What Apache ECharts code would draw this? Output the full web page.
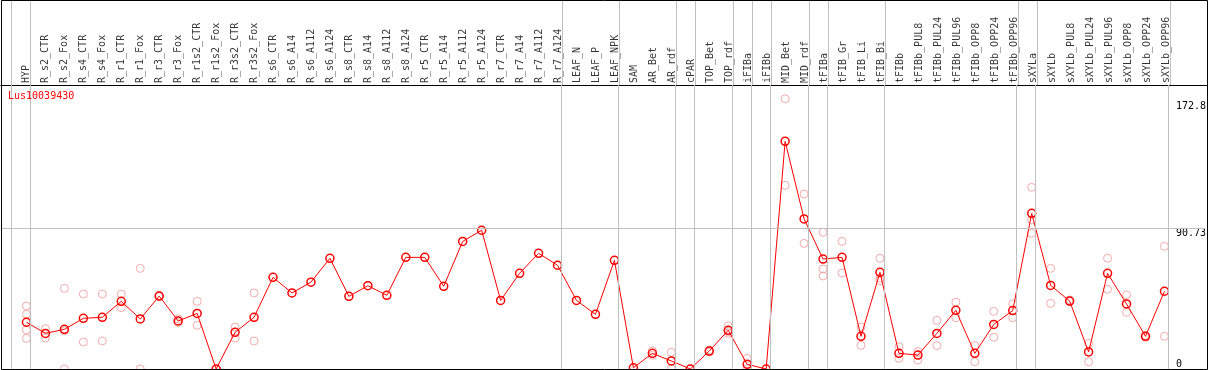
<!DOCTYPE html>
<html>
<head>
<meta charset="utf-8">
<title>Lus10039430</title>
<script src="https://cdn.jsdelivr.net/npm/echarts@6.0.0/dist/echarts.min.js"></script>
<style>
    html, body { margin: 0; padding: 0; background: #fff; }
    #chart { width: 1209px; height: 370px; }
</style>
</head>
<body>
<div id="chart"></div>
<script>
var categories = ['HYP', 'R_s2_CTR', 'R_s2_Fox', 'R_s4_CTR', 'R_s4_Fox', 'R_r1_CTR', 'R_r1_Fox', 'R_r3_CTR', 'R_r3_Fox',
    'R_r1s2_CTR', 'R_r1s2_Fox', 'R_r3s2_CTR', 'R_r3s2_Fox', 'R_s6_CTR', 'R_s6_A14', 'R_s6_A112', 'R_s6_A124',
    'R_s8_CTR', 'R_s8_A14', 'R_s8_A112', 'R_s8_A124', 'R_r5_CTR', 'R_r5_A14', 'R_r5_A112', 'R_r5_A124',
    'R_r7_CTR', 'R_r7_A14', 'R_r7_A112', 'R_r7_A124', 'LEAF_N', 'LEAF_P', 'LEAF_NPK', 'SAM', 'AR_Bet', 'AR_rdf',
    'cPAR', 'TOP_Bet', 'TOP_rdf', 'iFIBa', 'iFIBb', 'MID_Bet', 'MID_rdf', 'tFIBa', 'tFIB_Gr', 'tFIB_Li', 'tFIB_Bi',
    'tFIBb', 'tFIBb_PUL8', 'tFIBb_PUL24', 'tFIBb_PUL96', 'tFIBb_OPP8', 'tFIBb_OPP24', 'tFIBb_OPP96',
    'sXYLa', 'sXYLb', 'sXYLb_PUL8', 'sXYLb_PUL24', 'sXYLb_PUL96', 'sXYLb_OPP8', 'sXYLb_OPP24', 'sXYLb_OPP96'];

// mean per sample (red line)
var means = [30.2, 23.0, 25.6, 32.7, 33.4, 43.7, 32.3, 47.1, 31.0, 35.9, 0, 23.7, 33.4,
    59.2, 49.1, 56.1, 71.5, 46.9, 53.8, 47.6, 72.1, 72.1, 53.4, 82.4, 89.6, 44.3, 61.8, 74.7, 67.0,
    44.3, 35.3, 70.2, 0.8, 10.1, 5.2, 0, 11.6, 25.0, 3.0, 0, 147.0, 96.9, 71.0, 72.1, 21.1, 62.4,
    10.1, 9.0, 23.0, 37.9, 10.1, 28.8, 37.7, 100.5, 54.0, 43.9, 11.0, 61.8, 42.0, 21.1, 50.2];

// single replicates (pale circles), one list per sample
var replicates = [[40.7, 35.3, 25.2, 19.8], [26.0, 20.0], [52.1, 24.7, 0], [48.4, 17.4], [48.4, 18.1],
    [48.4, 39.6], [65.0, 0], [47.5, 46.8], [32.4, 30.0], [43.7, 28.2], [0, 0], [27.1, 20.0], [49.1, 18.1],
    [], [], [], [], [], [], [], [], [], [], [], [], [], [], [], [], [], [], [],
    [], [11.8, 8.8], [10.8, 0.2], [], [12.3, 11.0], [27.8, 24.2, 23.0], [6.9, 0.2], [],
    [174.5, 118.6], [113.0, 81.1], [88.3, 64.6, 60.1], [82.4, 62.0], [27.1, 15.3], [71.5, 58.7, 57.0],
    [14.4, 6.9], [11.2, 5.8], [31.4, 15.1], [43.1, 33.1], [15.1, 4.7], [37.2, 20.5], [42.0, 33.1],
    [117.3, 96.2, 87.6], [65.0, 42.4], [44.6, 43.5], [16.6, 4.7], [71.5, 51.5], [47.8, 36.6],
    [21.7, 20.5], [79.2, 21.1]];

// a group separator is drawn just after these sample indexes
var groupEnds = [-1, 0, 28, 31, 34, 35, 37, 38, 39, 41, 42, 45, 52, 53, 60];

var yTicks = [90.73, 172.8];
var yZero = [0];
var yGrid = [90.73];

var font = 'DejaVu Sans Mono';
var gray = '#c0c0c0';
var xMin = -1.35, xMax = 62.15;
var yMax = 183.4; // 172.8 plus the room up to the header line

var chart = echarts.init(document.getElementById('chart'));

var sepData = groupEnds.map(function (i) { return { xAxis: i + 0.21 }; });
var markSep = function (extra) {
    return {
        silent: true,
        symbol: 'none',
        animation: false,
        label: { show: false },
        emphasis: { disabled: true },
        lineStyle: { color: gray, width: 1, type: 'solid' },
        data: sepData.concat(extra || [])
    };
};

var repPoints = [];
replicates.forEach(function (vals, i) {
    vals.forEach(function (v) { repPoints.push([i, v]); });
});

var yLabel = function (vals, va) {
    return {
        customValues: vals,
        verticalAlign: va,
        align: 'left',
        margin: 2,
        fontFamily: font,
        fontSize: 10,
        color: '#000'
    };
};

var option = {
    animation: false,
    backgroundColor: '#fff',
    title: {
        text: 'Lus10039430',
        left: 8,
        top: 91,
        padding: 0,
        textStyle: { color: '#ff0000', fontFamily: font, fontSize: 10, fontWeight: 'normal' }
    },
    grid: [
        { left: 0.85, right: 1.65, top: 0, height: 85 },
        { left: 0.85, right: 1.65, top: 85, bottom: 1 }
    ],
    xAxis: [
        {
            gridIndex: 0, type: 'value', min: xMin, max: xMax,
            axisLine: { show: true, lineStyle: { color: '#000', width: 1 } },
            axisTick: { show: false }, axisLabel: { show: false }, splitLine: { show: false }
        },
        { gridIndex: 1, type: 'value', min: xMin, max: xMax, show: false }
    ],
    yAxis: [
        { gridIndex: 0, type: 'value', min: 0, max: 1, show: false },
        {
            gridIndex: 1, type: 'value', position: 'right', offset: -31.35, min: 0, max: yMax,
            axisLine: { show: false }, axisTick: { show: false }, splitLine: { show: false },
            axisLabel: yLabel(yTicks, 'top')
        },
        {
            gridIndex: 1, type: 'value', position: 'right', offset: -31.35, min: 0, max: yMax,
            axisLine: { show: false }, axisTick: { show: false }, splitLine: { show: false },
            axisLabel: yLabel(yZero, 'bottom')
        }
    ],
    graphic: [{
        type: 'rect',
        silent: true,
        z: 100,
        shape: { x: 1.5, y: 0.5, width: 1206, height: 369 },
        style: { fill: 'none', stroke: '#000', lineWidth: 1 }
    }],
    series: [
        {
            // sample names in the header
            type: 'scatter',
            xAxisIndex: 0,
            yAxisIndex: 0,
            silent: true,
            symbolSize: 0,
            data: categories.map(function (c, i) { return [i, 0]; }),
            label: {
                show: true,
                position: 'inside',
                rotate: 90,
                align: 'left',
                verticalAlign: 'middle',
                padding: [0, 0, 0, 2],
                fontFamily: font,
                fontSize: 10,
                color: '#000',
                formatter: function (p) { return categories[p.dataIndex]; }
            },
            markLine: markSep()
        },
        {
            type: 'scatter',
            xAxisIndex: 1,
            yAxisIndex: 1,
            silent: true,
            clip: false,
            symbol: 'circle',
            symbolSize: 8,
            data: repPoints,
            itemStyle: { color: 'rgba(0,0,0,0)', borderColor: '#f09696', borderWidth: 1 },
            markLine: markSep(yGrid.map(function (v) { return { yAxis: v }; })),
            z: 2
        },
        {
            type: 'line',
            xAxisIndex: 1,
            yAxisIndex: 1,
            silent: true,
            clip: false,
            symbol: 'circle',
            symbolSize: 8,
            showAllSymbol: true,
            data: means.map(function (v, i) { return [i, v]; }),
            lineStyle: { color: '#ff0000', width: 1 },
            itemStyle: { color: 'rgba(0,0,0,0)', borderColor: '#ff0000', borderWidth: 1.5 },
            z: 3
        }
    ]
};

chart.setOption(option);
</script>
</body>
</html>
